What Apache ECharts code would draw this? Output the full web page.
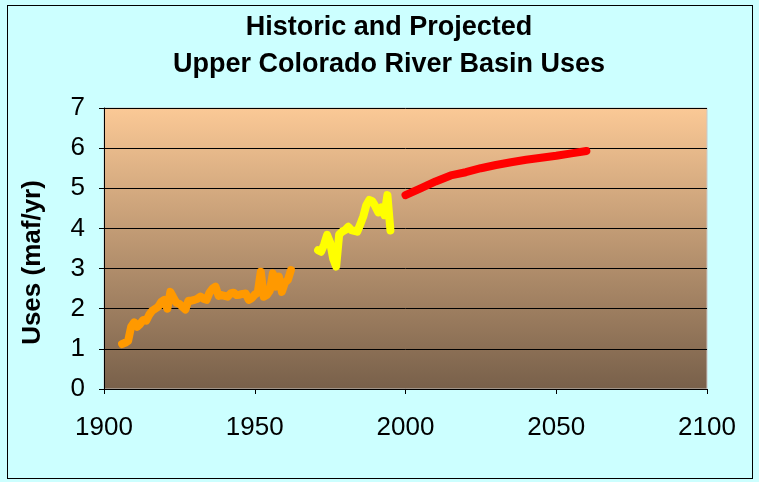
<!DOCTYPE html>
<html>
<head>
<meta charset="utf-8">
<script src="https://cdn.jsdelivr.net/npm/echarts@6/dist/echarts.min.js"></script>
<style>
  html, body { margin: 0; padding: 0; background: #ccffff; }
  #chart { width: 759px; height: 482px; }
  #frame { position: absolute; left: 7px; top: 5px; width: 744px; height: 472px; border: 1px solid #000; pointer-events: none; }
</style>
</head>
<body>
<div id="chart"></div>
<div id="frame"></div>
<script>
// historic uses 1906-1962 (orange)
const histYears = []
for (let y = 1906; y <= 1962; y++) histYears.push(y)
const histUses = [
  1.12, 1.15, 1.20, 1.55, 1.66, 1.55, 1.62, 1.72, 1.70, 1.85,
  1.95, 2.00, 2.05, 2.17, 2.22, 2.00, 2.42, 2.28, 2.15, 2.12,
  2.05, 1.98, 2.20, 2.20, 2.22, 2.25, 2.30, 2.25, 2.22, 2.40,
  2.50, 2.55, 2.32, 2.34, 2.32, 2.30, 2.38, 2.40, 2.34, 2.35,
  2.37, 2.38, 2.22, 2.26, 2.35, 2.40, 2.92, 2.30, 2.34, 2.45,
  2.88, 2.55, 2.80, 2.42, 2.65, 2.72, 2.96
]

// more recent uses 1971-1995 (yellow)
const recentYears = []
for (let y = 1971; y <= 1995; y++) recentYears.push(y)
const recentUses = [
  3.46, 3.42, 3.60, 3.84, 3.65, 3.25, 3.05, 3.85, 3.92, 3.96,
  4.04, 3.96, 3.94, 3.92, 4.10, 4.30, 4.58, 4.71, 4.68, 4.55,
  4.40, 4.52, 4.33, 4.83, 3.95
]

// projected uses (red)
const projYears = [2000, 2005, 2010, 2015, 2020, 2025, 2030, 2035, 2040, 2045, 2050, 2055, 2060]
const projUses = [4.83, 5.00, 5.17, 5.32, 5.40, 5.50, 5.58, 5.65, 5.71, 5.76, 5.81, 5.87, 5.93]

const titleLines = ['Historic and Projected', 'Upper Colorado River Basin Uses']

function pairs(xs, ys) {
  return xs.map((x, i) => [x, ys[i]])
}

const chart = echarts.init(document.getElementById('chart'))
const font = 'Liberation Sans, Arial, sans-serif'

const lineSeries = (data, color) => ({
  type: 'line',
  data: data,
  showSymbol: false,
  symbol: 'none',
  lineStyle: { color: color, width: 8, cap: 'round', join: 'round' },
  animation: false
})

chart.setOption({
  backgroundColor: '#ccffff',
  title: {
    text: titleLines.join('\n'),
    left: 384,
    textAlign: 'center',
    top: 4,
    textStyle: { fontFamily: font, fontWeight: 'bold', fontSize: 27, lineHeight: 37, color: '#000' }
  },
  grid: {
    left: 104,
    right: 52,
    top: 108,
    bottom: 93,
    show: true,
    borderColor: '#c8c8c8',
    borderWidth: 1,
    backgroundColor: {
      type: 'linear', x: 0, y: 0, x2: 0, y2: 1,
      colorStops: [
        { offset: 0, color: '#fbc996' },
        { offset: 1, color: '#78604a' }
      ]
    }
  },
  xAxis: {
    type: 'value',
    min: 1900,
    max: 2100,
    interval: 50,
    axisLine: { show: true, onZero: false, lineStyle: { color: '#000', width: 1 } },
    axisTick: { show: true, inside: false, length: 5, lineStyle: { color: '#000' } },
    axisLabel: { margin: 26, fontFamily: font, fontSize: 26, color: '#000', formatter: v => String(v) },
    splitLine: { show: false }
  },
  yAxis: {
    type: 'value',
    min: 0,
    max: 7,
    interval: 1,
    name: 'Uses (maf/yr)',
    nameLocation: 'middle',
    nameGap: 58,
    nameTextStyle: { fontFamily: font, fontWeight: 'bold', fontSize: 26, color: '#000', padding: [0, 28, 0, 0] },
    axisLine: { show: true, lineStyle: { color: '#000', width: 1 } },
    axisTick: { show: true, inside: false, length: 5, lineStyle: { color: '#000' } },
    axisLabel: { margin: 19, fontFamily: font, fontSize: 26, color: '#000' },
    splitLine: { show: true, lineStyle: { color: '#000', width: 1 } }
  },
  series: [
    lineSeries(pairs(histYears, histUses), '#ff9900'),
    lineSeries(pairs(recentYears, recentUses), '#ffff00'),
    lineSeries(pairs(projYears, projUses), '#ff0000')
  ]
})
</script>
</body>
</html>
